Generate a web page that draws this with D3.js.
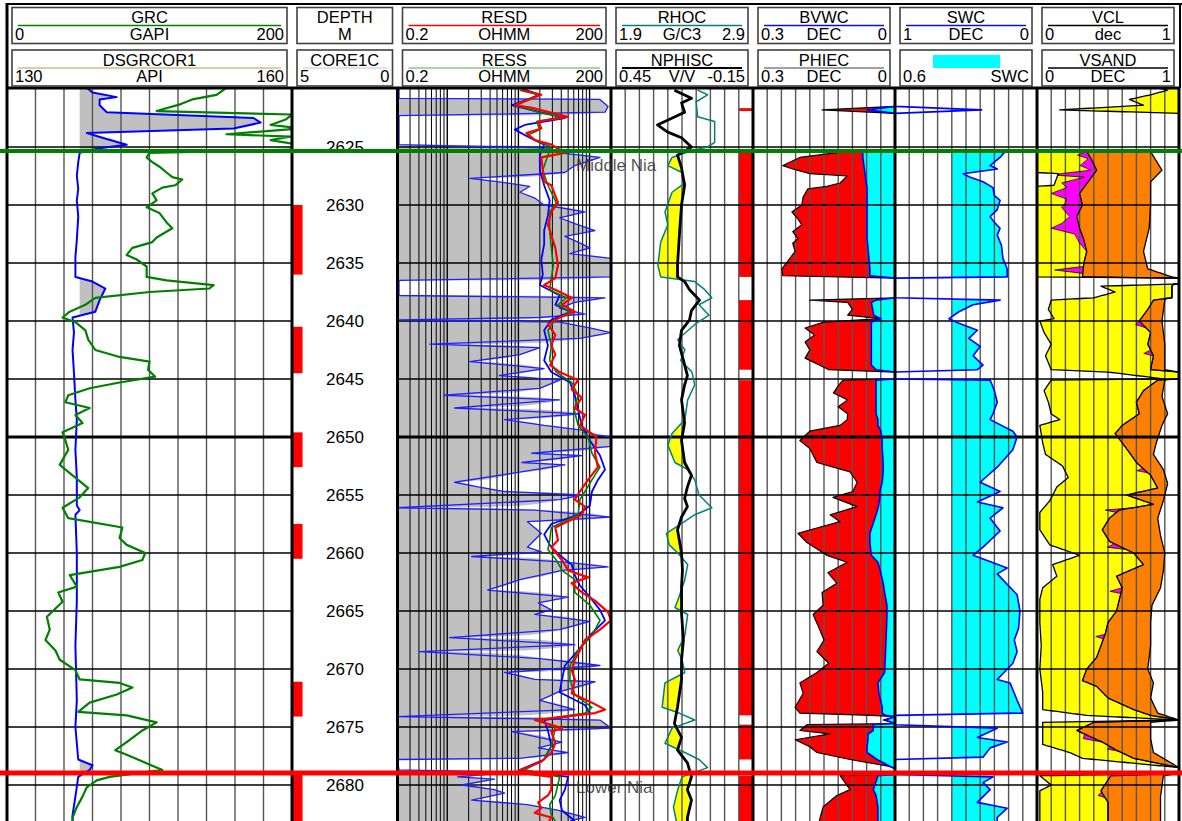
<!DOCTYPE html>
<html><head><meta charset="utf-8">
<script src="https://cdn.jsdelivr.net/npm/d3@7"></script>
<style>
body{margin:0;background:#fff;}
svg{display:block;font-family:"Liberation Sans",Arial,sans-serif;}
</style>
</head><body>
<svg id="c" width="1182" height="821"></svg>
<script>
// ===================== DATA =====================
const headName1 = ["GRC","DEPTH","RESD","RHOC","BVWC","SWC","VCL"];
const headUnit1 = ["GAPI","M","OHMM","G/C3","DEC","DEC","dec"];
const headLeft1 = ["0","","0.2","1.9","0.3","1","0"];
const headRight1 = ["200","","200","2.9","0","0","1"];
const headName2 = ["DSGRCOR1","CORE1C","RESS","NPHISC","PHIEC","","VSAND"];
const headUnit2 = ["API","","OHMM","V/V","DEC","","DEC"];
const headLeft2 = ["130","5","0.2","0.45","0.3","0.6","0"];
const headRight2 = ["160","0","200","-0.15","0","SWC","1"];
const headColor1 = ["#008000",null,"#ff0000","#008080","#1010d0","#1010d0","#000000"];
const headColor2 = ["#c8c08a","#d8d8d8","#88c888","#000000","#808080",null,"#000000"];

const depthTicks = [2625,2630,2635,2640,2645,2650,2655,2660,2665,2670,2675,2680];
const topNames = ["Middle Nia","Lower Nia"];
const topDepths = [2625.35, 2678.97];
const topColors = ["#008000","#ff0000"];

const coreTop  = [2630.0, 2640.5, 2649.6, 2657.5, 2671.1, 2679.1];
const coreBase = [2636.0, 2644.5, 2652.6, 2660.5, 2674.1, 2683.5];
const coreValue = 4.5;

const flagTop  = [2621.65, 2625.3, 2638.2, 2645.1, 2674.8, 2679.2];
const flagBase = [2621.9, 2636.2, 2644.2, 2674.0, 2677.8, 2683.5];

const GRC = [[2619.9,154],[2620.5,147],[2620.9,130],[2621.3,122],[2621.9,105],[2622.2,200],[2622.6,196],[2623.1,185],[2623.4,206],[2623.9,154],[2624.1,199],[2624.4,185],[2624.8,205],[2625.2,205],[2625.5,100],[2625.9,98],[2626.3,102],[2626.7,107],[2627.2,112],[2627.6,116],[2627.8,123],[2628.3,118],[2628.5,109],[2629.0,102],[2629.6,105],[2630.2,98],[2630.7,107],[2631.5,112],[2632.0,116],[2632.8,105],[2633.2,102],[2633.7,88],[2634.3,84],[2634.7,91],[2635.3,98],[2636.2,98],[2636.5,112],[2636.9,145],[2637.2,142],[2637.5,100],[2638.0,62],[2638.6,55],[2639.2,44],[2639.7,39],[2640.1,48],[2640.8,55],[2641.6,57],[2642.5,62],[2643.1,79],[2643.5,100],[2644.2,99],[2644.8,104],[2645.3,79],[2645.8,58],[2646.4,43],[2647.0,41],[2647.5,58],[2648.1,48],[2648.8,53],[2649.6,39],[2650.3,41],[2651.1,43],[2652.4,37],[2653.3,46],[2654.4,57],[2655.2,51],[2656.1,39],[2657.0,43],[2657.8,81],[2658.7,79],[2659.3,84],[2660.0,97],[2660.6,95],[2661.2,79],[2661.9,44],[2662.9,49],[2663.4,36],[2664.2,39],[2665.5,28],[2666.6,30],[2667.5,27],[2668.4,34],[2669.2,37],[2670.1,48],[2670.9,51],[2671.2,79],[2671.6,88],[2672.2,77],[2672.9,58],[2673.7,50],[2674.0,84],[2674.6,105],[2675.3,95],[2676.3,84],[2677.0,76],[2677.4,84],[2678.7,109],[2679.3,72],[2679.6,63],[2680.2,56],[2681.0,53],[2681.9,49],[2682.8,46],[2683.1,46]];
const GRB = [[2619.9,56],[2620.3,60],[2620.7,77],[2620.9,65],[2621.4,65],[2622.0,70],[2622.5,173],[2622.9,178],[2623.4,159],[2623.8,56],[2624.2,67],[2624.8,84],[2625.1,65],[2625.5,51],[2626.3,50],[2627.5,49],[2628.6,50],[2629.6,49],[2631.0,50],[2633.0,49],[2634.5,48],[2636.2,48],[2636.6,60],[2637.2,69],[2638.2,65],[2639.2,62],[2639.7,46],[2641.0,47],[2642.5,46],[2644.5,47],[2646.8,48],[2648.5,49],[2651.1,48],[2653.5,49],[2655.9,49],[2656.3,51],[2656.7,48],[2660.0,49],[2664.1,49],[2668.0,48],[2672.7,49],[2675.0,48],[2677.8,50],[2678.3,60],[2678.7,58],[2679.3,50],[2681.0,48],[2682.6,46],[2683.1,46]];
const grBaseline = 51;

const RESD = [[2620.1,11.2],[2620.5,21],[2621.4,9],[2621.6,15],[2622.4,50],[2622.8,19],[2623.4,21],[2623.8,13],[2624.4,17],[2624.8,29],[2625.5,45],[2625.9,21],[2628.0,23],[2628.3,29],[2629.8,36],[2630.6,29],[2631.7,26],[2632.6,29],[2633.7,33],[2635.2,36],[2636.3,33],[2636.9,23],[2637.3,33],[2638.0,56],[2638.6,41],[2639.2,62],[2639.7,38],[2640.3,26],[2641.2,33],[2642.1,29],[2642.9,33],[2643.8,28],[2644.4,38],[2645.1,69],[2645.9,56],[2646.6,78],[2647.5,62],[2648.1,86],[2649.0,73],[2650.0,125],[2651.4,119],[2652.6,131],[2653.7,95],[2654.7,73],[2655.4,62],[2656.0,86],[2656.7,78],[2657.8,33],[2658.9,36],[2659.5,29],[2660.6,41],[2661.5,50],[2662.1,95],[2662.6,56],[2663.4,78],[2664.1,119],[2665.1,182],[2665.8,200],[2666.6,140],[2667.5,86],[2668.4,73],[2669.2,62],[2670.1,56],[2670.9,62],[2672.1,56],[2672.9,108],[2673.5,165],[2673.8,119],[2674.4,17],[2675.1,41],[2675.4,29],[2676.4,33],[2677.2,29],[2678.0,21],[2678.9,9],[2679.3,29],[2680.4,29],[2680.9,26],[2681.5,19],[2682.0,21],[2682.4,17],[2682.8,29],[2683.1,27]];
const RESS = [[2620.1,10.5],[2620.5,19],[2621.4,9],[2622.0,19],[2622.4,41],[2622.8,18],[2623.5,20],[2624.0,13.4],[2624.6,20],[2625.0,29],[2625.7,26],[2627.0,22],[2628.3,26],[2629.8,34],[2630.6,27.5],[2632.2,27.5],[2633.7,29],[2635.2,31],[2636.3,29],[2637.3,27.5],[2638.0,47],[2638.6,36],[2639.2,53],[2639.9,33],[2640.8,26],[2642.1,29],[2643.4,27.5],[2644.4,34],[2645.3,56],[2646.4,69],[2647.7,61],[2649.0,69],[2650.0,95],[2651.4,108],[2652.6,140],[2653.7,108],[2654.7,86],[2655.4,73],[2656.7,69],[2657.8,29],[2658.9,27.5],[2659.7,26],[2660.6,34],[2661.5,41],[2662.3,62],[2663.4,62],[2664.5,101],[2665.8,140],[2667.1,108],[2668.4,69],[2669.7,53],[2670.9,53],[2672.2,62],[2673.3,108],[2673.8,86],[2674.4,20],[2675.1,33],[2676.6,29],[2677.8,23],[2678.7,12.3],[2679.3,38],[2680.9,33],[2681.7,27.5],[2682.6,29],[2683.1,33]];
const RESM = [[2619.9,10.5],[2620.5,20],[2621.4,8],[2622.0,20],[2622.5,45],[2623.1,12.3],[2623.5,8.9],[2624.2,14.4],[2624.8,23],[2625.7,20],[2627.0,20],[2628.3,23],[2629.6,27.5],[2630.9,26],[2632.2,23],[2633.4,23],[2634.7,21],[2636.0,22],[2636.9,20],[2637.8,38],[2638.6,33],[2639.2,53],[2639.9,29],[2640.8,23],[2642.1,26],[2643.4,23],[2644.4,29],[2645.3,53],[2646.4,62],[2647.7,69],[2649.0,78],[2650.3,101],[2651.6,140],[2652.8,165],[2653.7,131],[2654.7,108],[2655.9,101],[2656.7,69],[2657.5,29],[2658.4,23],[2659.3,27.5],[2660.2,38],[2661.0,56],[2661.9,62],[2662.8,73],[2663.6,95],[2664.9,140],[2665.8,165],[2667.1,101],[2668.4,69],[2669.7,45],[2670.9,41],[2672.0,38],[2673.1,86],[2673.8,101],[2674.4,23],[2675.3,26],[2676.6,29],[2677.8,23],[2678.7,10.5],[2679.3,50],[2680.4,45],[2681.3,38],[2682.2,41],[2683.1,62]];
const RXO = [[2619.9,0.21],[2620.8,0.21],[2620.9,140],[2621.5,182],[2622.0,165],[2622.3,0.21],[2624.8,0.21],[2625.1,27.5],[2625.5,38],[2625.9,140],[2626.6,62],[2627.2,45],[2627.7,2.07],[2628.0,5.4],[2628.4,14.4],[2628.9,10.5],[2629.4,17],[2630.0,23],[2630.6,86],[2631.1,38],[2631.6,62],[2632.2,119],[2632.7,45],[2633.2,69],[2633.7,101],[2634.2,53],[2634.6,200],[2636.2,200],[2636.5,0.21],[2637.8,0.21],[2638.0,165],[2638.4,62],[2638.9,38],[2639.4,86],[2639.7,20],[2639.9,0.21],[2640.1,38],[2640.6,101],[2641.0,200],[2641.5,73],[2642.0,0.57],[2642.3,20],[2642.9,10.5],[2643.5,2.07],[2644.1,23],[2644.7,5.4],[2645.1,38],[2645.8,20],[2646.4,0.9],[2646.8,38],[2647.5,1.27],[2648.0,73],[2648.5,6.4],[2649.0,23],[2649.4,78],[2649.8,119],[2650.0,200],[2650.8,200],[2651.4,15.4],[2651.6,78],[2652.2,11.2],[2652.4,45],[2653.1,8.9],[2653.9,1.27],[2654.3,2.7],[2654.7,6.4],[2655.0,78],[2655.4,38],[2656.1,0.2],[2656.3,17],[2656.9,200],[2657.3,13.4],[2658.3,21],[2659.5,13.4],[2659.9,21],[2660.3,2.2],[2660.8,50],[2661.2,182],[2661.5,41],[2662.3,10.5],[2663.2,3.7],[2663.8,50],[2664.3,19],[2664.9,29],[2665.3,17],[2665.9,101],[2666.6,38],[2667.3,1.08],[2667.9,62],[2668.5,0.41],[2669.1,20],[2669.7,140],[2670.3,6.4],[2670.9,17],[2671.1,119],[2672.0,36],[2672.7,20],[2673.5,62],[2674.1,0.2],[2674.4,140],[2675.1,200],[2675.4,8],[2676.3,41],[2676.8,19],[2677.2,50],[2677.7,10.5],[2677.8,0.2],[2678.7,0.21],[2678.9,8],[2679.3,1.4],[2679.5,4.6],[2680.0,1.6],[2680.4,4.6],[2680.7,6.4],[2681.3,2.2],[2681.7,13.4],[2682.2,38],[2682.8,86],[2683.1,53]];

const RHOC = [[2620.1,2.51],[2620.5,2.58],[2621.1,2.50],[2622.4,2.51],[2622.8,2.63],[2624.6,2.63],[2625.0,2.58],[2625.3,2.47],[2625.9,2.33],[2626.6,2.30],[2627.2,2.40],[2628.1,2.42],[2628.9,2.33],[2630.6,2.28],[2631.7,2.30],[2633.2,2.25],[2635.2,2.23],[2636.2,2.25],[2636.6,2.49],[2637.3,2.56],[2638.0,2.61],[2638.6,2.52],[2639.5,2.59],[2640.3,2.49],[2641.6,2.37],[2642.5,2.42],[2643.4,2.39],[2644.4,2.47],[2645.5,2.49],[2646.8,2.44],[2648.5,2.42],[2649.7,2.33],[2650.7,2.30],[2652.2,2.35],[2652.8,2.44],[2653.7,2.49],[2655.0,2.52],[2656.1,2.61],[2656.7,2.49],[2657.6,2.38],[2658.3,2.29],[2659.3,2.31],[2660.0,2.37],[2661.0,2.44],[2662.3,2.42],[2664.1,2.37],[2664.7,2.35],[2665.3,2.44],[2667.1,2.42],[2668.4,2.37],[2669.2,2.40],[2670.3,2.42],[2671.2,2.28],[2673.3,2.26],[2673.8,2.38],[2674.4,2.49],[2675.1,2.33],[2676.4,2.28],[2677.2,2.42],[2677.8,2.52],[2678.5,2.58],[2679.3,2.40],[2680.4,2.37],[2681.9,2.34],[2683.1,2.36]];
const NPHISC = [[2620.1,0.182],[2620.8,0.110],[2621.2,0.152],[2622.0,0.139],[2623.1,0.254],[2623.7,0.212],[2624.2,0.152],[2625.0,0.110],[2625.7,0.169],[2626.8,0.152],[2628.3,0.139],[2630.0,0.152],[2632.6,0.161],[2635.2,0.169],[2636.2,0.169],[2636.6,0.139],[2637.3,0.118],[2638.2,0.076],[2639.1,0.110],[2639.9,0.118],[2640.8,0.152],[2642.1,0.161],[2643.4,0.144],[2644.7,0.127],[2645.5,0.139],[2646.8,0.152],[2648.8,0.139],[2650.3,0.152],[2652.2,0.139],[2653.3,0.110],[2654.3,0.127],[2655.3,0.139],[2656.0,0.127],[2656.9,0.152],[2658.0,0.169],[2660.0,0.152],[2661.5,0.148],[2662.9,0.152],[2665.2,0.152],[2667.5,0.144],[2669.2,0.152],[2670.9,0.152],[2673.3,0.169],[2674.7,0.182],[2675.9,0.152],[2677.0,0.169],[2678.1,0.127],[2679.3,0.110],[2680.4,0.127],[2681.3,0.110],[2682.8,0.127],[2683.1,0.127]];

const PHIEC = [[2619.9,0],[2621.5,0],[2621.8,0.154],[2622.1,0],[2625.3,0],[2625.4,0.106],[2625.9,0.201],[2626.6,0.237],[2626.9,0.216],[2627.3,0.180],[2627.5,0.101],[2628.1,0.116],[2628.4,0.144],[2628.6,0.184],[2629.3,0.194],[2630.0,0.197],[2630.6,0.218],[2631.1,0.207],[2631.7,0.197],[2632.3,0.216],[2632.9,0.205],[2633.3,0.216],[2634.0,0.211],[2634.6,0.222],[2635.5,0.239],[2636.1,0.237],[2636.3,0],[2638.0,0],[2638.2,0.18],[2638.4,0.10],[2639.0,0.09],[2639.5,0.10],[2639.8,0.03],[2640.1,0.15],[2640.6,0.19],[2641.2,0.17],[2641.8,0.19],[2642.5,0.18],[2643.2,0.19],[2643.8,0.16],[2644.2,0.14],[2644.4,0],[2645.0,0],[2645.1,0.11],[2645.6,0.12],[2646.2,0.13],[2646.8,0.10],[2647.4,0.12],[2648.0,0.10],[2648.5,0.101],[2649.0,0.116],[2649.5,0.180],[2650.3,0.201],[2651.0,0.180],[2652.2,0.165],[2653.0,0.095],[2653.9,0.080],[2654.7,0.089],[2655.2,0.131],[2656.0,0.080],[2656.7,0.137],[2657.3,0.116],[2658.3,0.205],[2659.1,0.186],[2660.2,0.144],[2660.8,0.101],[2661.7,0.142],[2662.6,0.123],[2663.4,0.154],[2664.5,0.152],[2665.3,0.173],[2666.5,0.160],[2667.5,0.150],[2668.5,0.165],[2669.5,0.140],[2670.3,0.165],[2671.2,0.201],[2672.1,0.194],[2673.3,0.211],[2673.8,0.201],[2674.0,0.05],[2674.1,0],[2674.4,0.025],[2674.7,0],[2674.8,0.186],[2675.3,0.201],[2675.6,0.137],[2676.1,0.211],[2676.7,0.180],[2677.2,0.165],[2677.8,0.095],[2678.4,0.011],[2678.6,0],[2679.1,0],[2679.2,0.116],[2680.4,0.095],[2680.9,0.123],[2681.9,0.152],[2682.8,0.158],[2683.1,0.16]];
const BVWC = [[2619.9,0],[2621.5,0],[2621.8,0.059],[2622.1,0],[2625.3,0],[2625.4,0.068],[2625.9,0.068],[2628.6,0.059],[2632.9,0.059],[2635.5,0.053],[2636.1,0.053],[2636.3,0],[2638.0,0],[2638.2,0.04],[2638.4,0.05],[2639.5,0.045],[2639.8,0.03],[2640.1,0.05],[2643.8,0.05],[2644.2,0.04],[2644.4,0],[2645.0,0],[2645.1,0.04],[2648.0,0.04],[2648.5,0.036],[2649.0,0.036],[2649.5,0.03],[2650.3,0.027],[2651.0,0.027],[2652.2,0.025],[2653.0,0.025],[2653.9,0.027],[2654.7,0.032],[2655.2,0.032],[2656.0,0.035],[2656.7,0.040],[2657.3,0.045],[2658.3,0.053],[2659.1,0.053],[2660.2,0.050],[2660.8,0.036],[2661.7,0.030],[2662.6,0.025],[2663.4,0.022],[2664.5,0.017],[2665.3,0.017],[2666.5,0.018],[2667.5,0.019],[2668.5,0.020],[2669.5,0.021],[2670.3,0.022],[2671.2,0.036],[2672.1,0.034],[2673.3,0.027],[2673.8,0.027],[2674.0,0.02],[2674.1,0],[2674.4,0.02],[2674.7,0],[2674.8,0.046],[2675.3,0.046],[2675.6,0.057],[2676.1,0.057],[2676.7,0.059],[2677.2,0.059],[2677.8,0.038],[2678.4,0.01],[2678.6,0],[2679.1,0],[2679.2,0.036],[2680.4,0.046],[2680.9,0.040],[2681.9,0.036],[2683.1,0.036]];

const SWC = [[2619.9,1],[2621.5,1],[2621.8,0.39],[2622.1,1],[2625.3,1],[2625.4,0.225],[2625.9,0.26],[2626.6,0.33],[2626.9,0.28],[2627.3,0.52],[2627.6,0.47],[2628.0,0.38],[2628.5,0.31],[2629.2,0.30],[2629.6,0.26],[2630.4,0.28],[2631.0,0.33],[2631.5,0.30],[2632.0,0.26],[2632.6,0.28],[2633.5,0.25],[2634.6,0.24],[2635.5,0.21],[2636.2,0.21],[2636.3,1],[2638.0,1],[2638.2,0.26],[2638.6,0.45],[2639.2,0.55],[2639.8,0.62],[2640.2,0.55],[2640.8,0.42],[2641.5,0.48],[2642.2,0.40],[2643.0,0.45],[2643.8,0.38],[2644.2,0.42],[2644.4,1],[2645.0,1],[2645.1,0.33],[2646.0,0.30],[2647.0,0.28],[2648.0,0.31],[2648.5,0.33],[2649.5,0.17],[2650.0,0.14],[2651.1,0.17],[2652.6,0.28],[2653.9,0.40],[2654.7,0.26],[2655.6,0.42],[2656.1,0.24],[2657.0,0.33],[2658.1,0.26],[2659.5,0.38],[2660.2,0.45],[2661.3,0.21],[2661.8,0.28],[2663.6,0.14],[2665.0,0.12],[2666.5,0.13],[2667.5,0.16],[2668.5,0.14],[2669.5,0.17],[2670.9,0.28],[2671.2,0.19],[2672.7,0.14],[2673.8,0.10],[2674.0,1],[2674.8,1],[2675.1,0.28],[2675.9,0.42],[2676.3,0.21],[2676.8,0.33],[2677.6,0.38],[2677.8,1],[2679.1,1],[2679.3,0.31],[2679.8,0.38],[2680.4,0.33],[2681.5,0.42],[2682.0,0.21],[2682.8,0.28],[2683.1,0.28]];
const swCutoff = 0.6;

const LITH_A = [[2619.9,0.85],[2620.1,0.92],[2620.5,0.8],[2620.9,0.65],[2621.4,0.75],[2621.8,0.16],[2622.1,1.0],[2625.3,1.0],[2625.4,0.0],[2627.2,0.0],[2627.3,0.15],[2628.3,0.12],[2628.4,0.0],[2636.2,0.0],[2636.3,1.0],[2636.8,1.0],[2637.0,0.45],[2637.5,0.55],[2638.0,0.4],[2638.2,0.1],[2639.0,0.08],[2639.8,0.12],[2640.0,0.02],[2641.0,0.05],[2642.0,0.1],[2643.0,0.06],[2644.2,0.1],[2644.4,0.5],[2645.0,0.9],[2645.1,0.1],[2646.0,0.05],[2647.0,0.08],[2648.0,0.1],[2648.5,0.16],[2649.0,0.02],[2650.5,0.04],[2651.5,0.06],[2652.5,0.18],[2653.5,0.22],[2654.3,0.14],[2655.5,0.09],[2656.5,0.02],[2658.0,0.02],[2659.3,0.09],[2660.2,0.3],[2661.0,0.11],[2662.0,0.14],[2663.0,0.04],[2664.0,0.02],[2666.0,0.02],[2668.0,0.03],[2670.0,0.02],[2672.0,0.04],[2673.5,0.04],[2674.0,0.35],[2674.4,1.0],[2674.6,0.04],[2676.5,0.04],[2677.2,0.23],[2677.7,0.32],[2678.5,1.0],[2679.0,1.0],[2679.2,0.02],[2680.0,0.1],[2680.5,0.02],[2683.1,0.02]];
const LITH_C = [[2619.9,1],[2625.3,1],[2625.4,0.35],[2626.0,0.38],[2627.0,0.42],[2628.0,0.36],[2629.0,0.3],[2630.0,0.32],[2631.0,0.28],[2632.0,0.30],[2633.0,0.33],[2634.0,0.35],[2635.0,0.33],[2636.2,0.32],[2636.3,1],[2637.0,0.95],[2638.0,0.95],[2638.2,0.82],[2639.0,0.78],[2640.0,0.72],[2641.0,0.8],[2642.0,0.78],[2643.0,0.82],[2644.2,0.8],[2644.4,1],[2645.0,1],[2645.1,0.85],[2646.0,0.75],[2647.0,0.7],[2648.0,0.72],[2649.0,0.6],[2649.7,0.55],[2650.5,0.6],[2651.5,0.66],[2652.2,0.7],[2653.3,0.8],[2654.4,0.85],[2655.0,0.63],[2655.8,0.82],[2656.3,0.58],[2657.0,0.51],[2658.0,0.46],[2659.0,0.51],[2660.0,0.68],[2661.0,0.75],[2662.0,0.56],[2663.0,0.6],[2664.0,0.58],[2665.0,0.56],[2666.0,0.5],[2667.0,0.48],[2668.0,0.45],[2669.0,0.42],[2670.0,0.35],[2671.0,0.32],[2671.5,0.42],[2672.5,0.5],[2673.5,0.68],[2674.0,0.8],[2674.4,1],[2674.6,0.4],[2675.3,0.28],[2676.3,0.46],[2677.0,0.56],[2677.7,0.68],[2678.5,1],[2679.0,1],[2679.2,0.52],[2680.5,0.45],[2681.5,0.5],[2683.1,0.5]];
const LITH_D = [[2619.9,1],[2625.3,1],[2625.4,0.8],[2627.0,0.88],[2628.0,0.8],[2630.0,0.8],[2632.0,0.79],[2634.0,0.75],[2635.5,0.78],[2636.2,0.95],[2636.3,1],[2637.0,0.95],[2638.2,0.9],[2640.0,0.88],[2642.0,0.9],[2644.2,0.9],[2644.4,1],[2645.1,0.9],[2646.5,0.88],[2648.0,0.92],[2649.0,0.88],[2650.5,0.84],[2651.5,0.82],[2652.8,0.89],[2654.0,0.92],[2655.5,0.89],[2657.0,0.85],[2658.5,0.87],[2660.0,0.9],[2661.5,0.89],[2663.0,0.87],[2664.5,0.81],[2666.0,0.8],[2668.0,0.8],[2670.0,0.78],[2671.2,0.82],[2672.5,0.8],[2673.8,0.85],[2674.4,1],[2674.6,0.8],[2676.0,0.8],[2677.2,0.82],[2678.5,1],[2679.0,1],[2679.2,0.89],[2681.0,0.87],[2683.1,0.87]];
const LITH_MAG = [[2619.9,0],[2625.4,0],[2625.7,0.08],[2626.0,0.02],[2626.6,0.1],[2627.0,0.04],[2627.4,0.3],[2627.6,0.05],[2628.1,0.18],[2628.5,0.12],[2629.0,0.2],[2629.5,0.1],[2630.2,0.14],[2631.0,0.05],[2631.6,0.12],[2632.0,0.2],[2632.5,0.05],[2633.2,0.04],[2634.0,0],[2635.3,0],[2635.6,0.2],[2635.9,0],[2640.0,0],[2640.3,0.05],[2640.6,0],[2642.5,0],[2642.8,0.06],[2643.0,0],[2652.7,0],[2652.9,0.06],[2653.1,0],[2656.1,0],[2656.3,0.1],[2656.5,0],[2659.2,0],[2659.5,0.1],[2659.7,0],[2663.0,0],[2663.3,0.08],[2663.5,0],[2667.0,0],[2667.2,0.06],[2667.4,0],[2675.6,0],[2676.0,0.08],[2676.3,0],[2676.7,0],[2676.9,0.05],[2677.1,0],[2680.6,0],[2680.9,0.04],[2681.1,0],[2683.1,0]];

// ===================== DRAWING =====================
const svg = d3.select("#c");
const TOP = 88, BOT = 821;
const T = {t1:[7,292], td:[292,397.5], t3:[397.5,611], t4:[611,753], t5:[753,895], t6:[895,1037], t7:[1037,1179]};
const y = d3.scaleLinear().domain([2625,2680]).range([147,785]);
const xGR = d3.scaleLinear().domain([0,200]).range(T.t1);
const xCore = d3.scaleLinear().domain([5,0]).range(T.td);
const xRes = d3.scaleLog().domain([0.2,200]).range(T.t3);
const xRho = d3.scaleLinear().domain([1.9,2.9]).range(T.t4);
const xNph = d3.scaleLinear().domain([0.45,-0.15]).range(T.t4);
const xFlag = d3.scaleLinear().domain([0,1]).range([753,739]);
const xPhi = d3.scaleLinear().domain([0.3,0]).range(T.t5);
const xSw = d3.scaleLinear().domain([1,0]).range(T.t6);
const xV = d3.scaleLinear().domain([0,1]).range(T.t7);

const defs = svg.append("defs");
Object.entries(T).forEach(([k,[a,b]])=>{
  defs.append("clipPath").attr("id","clip-"+k).append("rect")
    .attr("x",a).attr("y",TOP).attr("width",b-a).attr("height",BOT-TOP);
});
const layer = k => svg.append("g").attr("clip-path","url(#clip-"+k+")");

const bis = d3.bisector(p=>p[0]).right;
function at(arr,d){
  if(d<=arr[0][0]) return arr[0][1];
  if(d>=arr[arr.length-1][0]) return arr[arr.length-1][1];
  const i = bis(arr,d); const a=arr[i-1], b=arr[i];
  return a[1]+(d-a[0])/(b[0]-a[0])*(b[1]-a[1]);
}
function depthSet(...arrs){
  const s = new Set(d3.range(2619.9,2683.2,0.02).map(v=>+v.toFixed(3)));
  arrs.forEach(a=>a.forEach(p=>s.add(p[0])));
  return Array.from(s).sort((a,b)=>a-b);
}
const area = d3.area().y(p=>y(p.d)).x0(p=>p.x0).x1(p=>p.x1);
function fillArea(g, depths, f, color){
  const pts = depths.map(d=>{const r=f(d); return {d:d,x0:r[0],x1:r[1]};});
  g.append("path").attr("d",area(pts)).attr("fill",color).attr("stroke","none");
}
function curve(g, arr, xs, color, w){
  g.append("path").datum(arr)
    .attr("d", d3.line().x(p=>xs(p[1])).y(p=>y(p[0])))
    .attr("fill","none").attr("stroke",color).attr("stroke-width",w).attr("stroke-linejoin","round");
}

// ---------- fills ----------
const g1 = layer("t1");
fillArea(g1, depthSet(GRB), d=>{const a=xGR(grBaseline), b=xGR(at(GRB,d)); return [a, Math.max(a,b)];}, "#c0c0c0");
const g3 = layer("t3");
fillArea(g3, depthSet(RXO), d=>[xRes(0.2), xRes(Math.max(0.2,Math.min(200,at(RXO,d))))], "#c0c0c0");
const g4 = layer("t4");
fillArea(g4, depthSet(RHOC,NPHISC), d=>{const a=xRho(at(RHOC,d)), b=xNph(at(NPHISC,d)); return [a, Math.max(a,b)];}, "#ffff00");
g4.selectAll("rect.flag").data(d3.range(flagTop.length)).enter().append("rect")
  .attr("x", xFlag(1)).attr("width", xFlag(0)-xFlag(1))
  .attr("y", i=>y(flagTop[i])).attr("height", i=>y(flagBase[i])-y(flagTop[i])).attr("fill","#ff0000");
const g5 = layer("t5");
const d5 = depthSet(PHIEC,BVWC);
fillArea(g5, d5, d=>{const p=at(PHIEC,d), b=at(BVWC,d); return [xPhi(Math.max(p,b)), xPhi(b)];}, "#ff0000");
fillArea(g5, d5, d=>[xPhi(at(BVWC,d)), xPhi(0)], "#00ffff");
const g6 = layer("t6");
fillArea(g6, depthSet(SWC), d=>{const a=xSw(swCutoff), b=xSw(at(SWC,d)); return [a, Math.max(a,b)];}, "#00ffff");
const g7 = layer("t7");
const d7 = depthSet(LITH_A,LITH_C,LITH_D,LITH_MAG);
const lith = d=>{const a=at(LITH_A,d), c=Math.max(a,at(LITH_C,d)), m=at(LITH_MAG,d), e=Math.max(c,at(LITH_D,d)); const b=Math.max(a,c-m); return {a,b,c,e};};
fillArea(g7, d7, d=>{const L=lith(d); return [xV(L.a), xV(L.b)];}, "#ffff00");
fillArea(g7, d7, d=>{const L=lith(d); return [xV(L.b), xV(L.c)];}, "#ff00ff");
fillArea(g7, d7, d=>{const L=lith(d); return [xV(L.c), xV(L.e)];}, "#ff8000");

const gd = layer("td");
gd.selectAll("rect.core").data(d3.range(coreTop.length)).enter().append("rect")
  .attr("x", xCore(5)).attr("width", xCore(coreValue)-xCore(5))
  .attr("y", i=>y(coreTop[i])).attr("height", i=>y(coreBase[i])-y(coreTop[i])).attr("fill","#ff0000");

// ---------- grids ----------
const gridG = svg.append("g");
["t1","t4","t5","t6","t7"].forEach(k=>{
  const s = d3.scaleLinear().domain([0,10]).range(T[k]);
  d3.range(1,10).forEach(i=>{
    gridG.append("line").attr("x1",s(i)).attr("x2",s(i)).attr("y1",TOP).attr("y2",BOT)
      .attr("stroke","#555").attr("stroke-width",1.4);
  });
});
const logTicks = [];
[0.1,1,10,100].forEach(dec=>d3.range(1,10).forEach(m=>{const v=+(dec*m).toPrecision(3); if(v>0.2&&v<200) logTicks.push(v);}));
logTicks.forEach(v=>{
  gridG.append("line").attr("x1",xRes(v)).attr("x2",xRes(v)).attr("y1",TOP).attr("y2",BOT)
    .attr("stroke","#000").attr("stroke-width",(v===1||v===10||v===100)?1.4:1);
});
["t1","t3","t4","t5","t6","t7"].forEach(k=>{
  depthTicks.forEach(d=>{
    gridG.append("line").attr("x1",T[k][0]).attr("x2",T[k][1]).attr("y1",y(d)).attr("y2",y(d))
      .attr("stroke","#000").attr("stroke-width", d%50===0?3:1.3);
  });
});

// ---------- curves ----------
const c1 = layer("t1");
curve(c1, GRB, xGR, "#0000ff", 2);
curve(c1, GRC, xGR, "#008000", 2.2);
const c3 = layer("t3");
curve(c3, RXO, v=>xRes(Math.max(0.2,v)), "#1f1fff", 1.3);
curve(c3, RESM, xRes, "#0000ff", 1.8);
curve(c3, RESS, xRes, "#008000", 1.6);
curve(c3, RESD, xRes, "#ff0000", 2.2);
const c4 = layer("t4");
curve(c4, RHOC, xRho, "#008080", 1.5);
curve(c4, NPHISC, xNph, "#000000", 2.8);
const c5 = layer("t5");
curve(c5, PHIEC, xPhi, "#000000", 1.2);
curve(c5, BVWC, xPhi, "#0000ff", 1.6);
const c6 = layer("t6");
curve(c6, SWC, xSw, "#0000ff", 1.6);
const c7 = layer("t7");
const lithLine = key => d7.map(d=>[d, lith(d)[key]]);
["a","c","e"].forEach(k=>curve(c7, lithLine(k), xV, "#000000", 1.3));
curve(c7, lithLine("b"), xV, "#000000", 0.8);

// ---------- frame ----------
const fr = svg.append("g");
fr.append("line").attr("x1",7).attr("x2",1182).attr("y1",4).attr("y2",4).attr("stroke","#000").attr("stroke-width",2);
fr.append("line").attr("x1",7).attr("x2",1180).attr("y1",TOP).attr("y2",TOP).attr("stroke","#000").attr("stroke-width",3);
fr.append("line").attr("x1",7).attr("x2",7).attr("y1",3).attr("y2",BOT).attr("stroke","#000").attr("stroke-width",3);
[292,397.5,611,753,895,1037,1179].forEach(x=>{
  fr.append("line").attr("x1",x).attr("x2",x).attr("y1",TOP).attr("y2",BOT).attr("stroke","#000").attr("stroke-width",3);
});
fr.append("line").attr("x1",1180).attr("x2",1180).attr("y1",3).attr("y2",TOP).attr("stroke","#000").attr("stroke-width",2);

svg.append("g").selectAll("text").data(depthTicks).enter().append("text")
  .attr("x",345).attr("y",d=>y(d)+6).attr("text-anchor","middle")
  .attr("font-size",17).attr("fill","#000").text(d=>d);

topDepths.forEach((d,i)=>{
  svg.append("line").attr("x1",0).attr("x2",1182).attr("y1",y(d)).attr("y2",y(d))
    .attr("stroke",topColors[i]).attr("stroke-width", i===0?4:5);
  svg.append("text").attr("x",576).attr("y",y(d)+20).attr("font-size",17)
    .attr("fill","#333").attr("fill-opacity",0.85).text(topNames[i]);
});

// ---------- header ----------
const hd = svg.append("g");
const trackKeys = ["t1","td","t3","t4","t5","t6","t7"];
function headerBox(i,row){
  const [a,b] = T[trackKeys[i]];
  const x0=a+5, x1=b-5, top=row===0?7.5:50, h=36;
  hd.append("rect").attr("x",x0).attr("y",top).attr("width",x1-x0).attr("height",h)
    .attr("fill","#fff").attr("stroke","#404040").attr("stroke-width",1.6);
  const name=row===0?headName1[i]:headName2[i];
  const unit=row===0?headUnit1[i]:headUnit2[i];
  const lft=row===0?headLeft1[i]:headLeft2[i];
  const rgt=row===0?headRight1[i]:headRight2[i];
  const col=row===0?headColor1[i]:headColor2[i];
  const cx=(x0+x1)/2;
  hd.append("text").attr("x",cx).attr("y",top+15.5).attr("text-anchor","middle").attr("font-size",16.5).text(name);
  if(col) hd.append("line").attr("x1",x0+6).attr("x2",x1-6).attr("y1",top+18).attr("y2",top+18)
    .attr("stroke",col).attr("stroke-width",(name==="NPHISC")?2.2:1.6);
  if(!col && row===1) hd.append("rect").attr("x",cx-33).attr("y",top+5).attr("width",67).attr("height",13).attr("fill","#00ffff");
  hd.append("text").attr("x",cx).attr("y",top+32).attr("text-anchor","middle").attr("font-size",16.5).text(unit);
  hd.append("text").attr("x",x0+3).attr("y",top+32).attr("text-anchor","start").attr("font-size",16.5).text(lft);
  hd.append("text").attr("x",x1-3).attr("y",top+32).attr("text-anchor","end").attr("font-size",16.5).text(rgt);
}
d3.range(7).forEach(i=>{headerBox(i,0); headerBox(i,1);});
</script>
</body></html>
